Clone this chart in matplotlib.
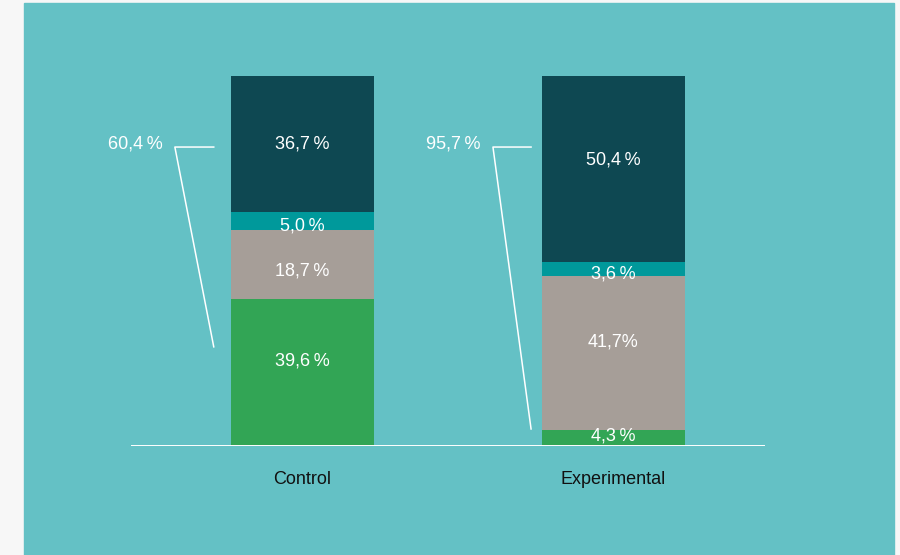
import matplotlib.pyplot as plt
from matplotlib.patches import Rectangle

plt.rcParams['font.family'] = ['Liberation Sans', 'DejaVu Sans']

groups = ["Control", "Experimental"]
seg_names = ["green", "gray", "teal", "dark"]
control = [39.6, 18.7, 5.0, 36.7]
experimental = [4.3, 41.7, 3.6, 50.4]
control_labels = ["39,6\u2009%", "18,7\u2009%", "5,0\u2009%", "36,7\u2009%"]
exp_labels = ["4,3\u2009%", "41,7%", "3,6\u2009%", "50,4\u2009%"]
bracket_labels = ["60,4\u2009%", "95,7\u2009%"]

colors = ["#32a555", "#a69e98", "#00999b", "#0e4852"]
bg = "#64c1c5"

# label heights inside bars (layout)
control_label_y = [23.0, 47.3, 59.5, 81.7]
exp_label_y = [2.8, 28.1, 46.6, 77.3]

fig = plt.figure(figsize=(9, 5.55), dpi=100, facecolor="#f7f7f7")
fig.patches.append(Rectangle((24 / 900, 0), 870 / 900, 552 / 555,
                             transform=fig.transFigure, color=bg, zorder=-5))

ax = fig.add_axes([131 / 900, 109 / 555, 634 / 900, 370 / 555])
ax.set_facecolor("none")
ax.set_xlim(-0.551, 1.487)
ax.set_ylim(0, 100)

width = 0.46
for i, (vals, labs, ly) in enumerate([(control, control_labels, control_label_y),
                                       (experimental, exp_labels, exp_label_y)]):
    bottom = 0
    for v, c, lab, y in zip(vals, colors, labs, ly):
        ax.bar(i, v, width, bottom=bottom, color=c, zorder=2)
        bottom += v
        ax.text(i, y, lab, color="white", ha="center", va="center", fontsize=13, zorder=3)
    ax.text(i, -9.1, groups[i], color="#111111", ha="center", va="center", fontsize=13)

ax.axhline(0, color="white", lw=1.4, zorder=4)

# brackets
brackets = [(-0.41, -0.285, 26.8), (0.6125, 0.735, 4.6)]
for (x0, x1, ybot), lab in zip(brackets, bracket_labels):
    ax.plot([x1, x0, x1], [80.8, 80.8, ybot], color="white", lw=1.1, clip_on=False)
    ax.text(x0 - 0.04, 81.7, lab, color="white", ha="right", va="center", fontsize=13)

ax.axis("off")
fig.savefig("out.png", dpi=100, facecolor=fig.get_facecolor())
